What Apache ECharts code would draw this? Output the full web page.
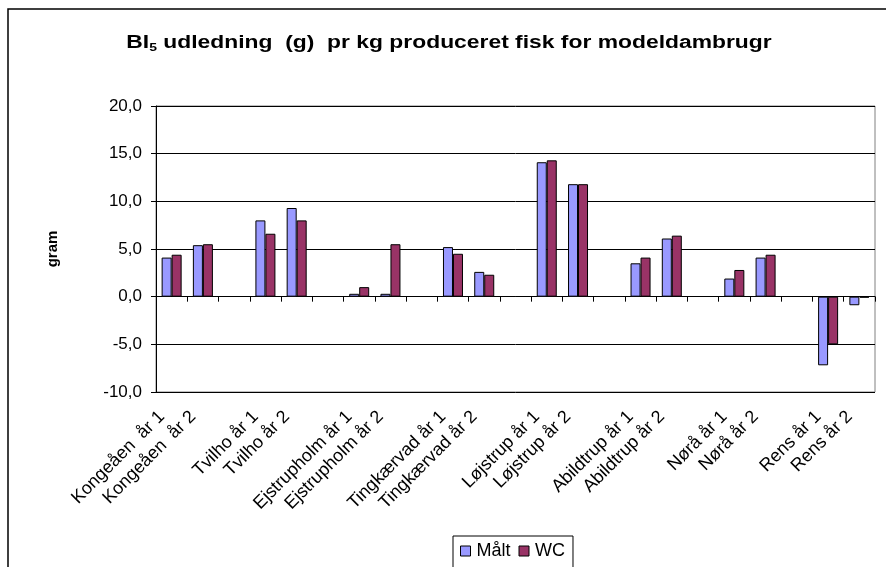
<!DOCTYPE html>
<html>
<head>
<meta charset="utf-8">
<script src="https://cdn.jsdelivr.net/npm/echarts@6/dist/echarts.min.js"></script>
<style>
html,body{margin:0;padding:0;background:#fff;}
#chart{width:886px;height:567px;}
</style>
</head>
<body>
<div id="chart"></div>
<script>
// Data
const sites = ['Kongeåen ', 'Tvilho', 'Ejstrupholm', 'Tingkærvad', 'Løjstrup', 'Abildtrup', 'Nørå', 'Rens'];
const years = ['år 1', 'år 2'];
const maltValues = [4.1, 5.4, 8.0, 9.3, 0.3, 0.3, 5.2, 2.6, 14.1, 11.8, 3.5, 6.1, 1.9, 4.1, -7.2, -0.9];
const wcValues   = [4.4, 5.5, 6.6, 8.0, 1.0, 5.5, 4.5, 2.3, 14.3, 11.8, 4.1, 6.4, 2.8, 4.4, -5.0, -0.1];
const seriesNames = ['Målt', 'WC'];
const yTicks = { min: -10, max: 20, interval: 5 };

// Build categories with empty gap slots between sites
const categories = [];
const malt = [];
const wc = [];
sites.forEach((s, i) => {
  years.forEach((y, j) => {
    categories.push(s + ' ' + y);
    malt.push(maltValues[i * 2 + j]);
    wc.push(wcValues[i * 2 + j]);
  });
  if (i < sites.length - 1) {
    categories.push('');
    malt.push(null);
    wc.push(null);
  }
});

const chart = echarts.init(document.getElementById('chart'), null, { renderer: 'canvas' });
const font = 'Liberation Sans, Arial, sans-serif';
chart.setOption({
  animation: false,
  backgroundColor: '#fff',
  textStyle: { fontFamily: font },
  graphic: [{
    type: 'rect', silent: true,
    shape: { x: 8, y: 9, width: 900, height: 600 },
    style: { fill: 'none', stroke: '#000', lineWidth: 1.5 }
  }, {
    type: 'text', x: 449, y: 43, scaleX: 1.27, scaleY: 1, silent: true,
    style: {
      x: 0, y: 0, align: 'center', verticalAlign: 'middle',
      rich: {
        b: { fontSize: 18, fontWeight: 'bold', fontFamily: font, fill: '#000' },
        s: { fontSize: 11, fontWeight: 'bold', fontFamily: font, fill: '#000', padding: [9, 0, 0, 0] }
      },
      text: '{b|BI}{s|5}{b| udledning  (g)  pr kg produceret fisk for modeldambrugr}'
    }
  }],
  grid: { left: 156, right: 11, top: 106, bottom: 175, show: true, borderColor: '#808080', borderWidth: 1, containLabel: false },
  legend: {
    data: seriesNames,
    left: 453, top: 536,
    orient: 'horizontal',
    itemWidth: 10, itemHeight: 10, itemGap: 8,
    borderColor: '#000', borderWidth: 1,
    padding: [6, 8, 12, 7],
    icon: 'rect',
    itemStyle: { borderColor: '#000', borderWidth: 1 },
    textStyle: { fontSize: 18, color: '#000', fontFamily: font, padding: [0, 0, 0, 1] }
  },
  xAxis: [{
    type: 'category', data: categories, position: 'bottom',
    axisLine: { onZero: true, lineStyle: { color: '#000', width: 1 } },
    axisTick: { show: true, interval: 0, length: 5, lineStyle: { color: '#000' } },
    axisLabel: { show: false, interval: 0 },
    splitLine: { show: false }
  }, {
    type: 'category', data: categories, position: 'bottom',
    axisLine: { show: false, onZero: false },
    axisTick: { show: false },
    axisLabel: { show: true, interval: 0, rotate: 45, fontSize: 18, color: '#000', margin: 12, fontFamily: font,
      padding: [0, 14, 0, 0] },
    splitLine: { show: false }
  }],
  yAxis: {
    type: 'value', min: yTicks.min, max: yTicks.max, interval: yTicks.interval,
    name: 'gram', nameLocation: 'middle', nameGap: 96, nameRotate: 90,
    nameTextStyle: { fontSize: 15, fontWeight: 'bold', color: '#000', fontFamily: font },
    axisLine: { show: true, lineStyle: { color: '#000', width: 1 } },
    axisTick: { show: true, length: 5, lineStyle: { color: '#000' } },
    axisLabel: { fontSize: 17, color: '#000', margin: 14, fontFamily: font,
      formatter: v => v.toFixed(1).replace('.', ',') },
    splitLine: { show: true, lineStyle: { color: '#000', width: 1 } }
  },
  series: [{
    name: seriesNames[0], type: 'bar', data: malt, xAxisIndex: 0,
    barGap: '0%', barCategoryGap: '36%',
    itemStyle: { color: '#9999FF', borderColor: '#000', borderWidth: 1 }
  }, {
    name: seriesNames[1], type: 'bar', data: wc, xAxisIndex: 0,
    barGap: '0%', barCategoryGap: '36%',
    itemStyle: { color: '#993366', borderColor: '#000', borderWidth: 1 }
  }]
});
</script>
</body>
</html>
